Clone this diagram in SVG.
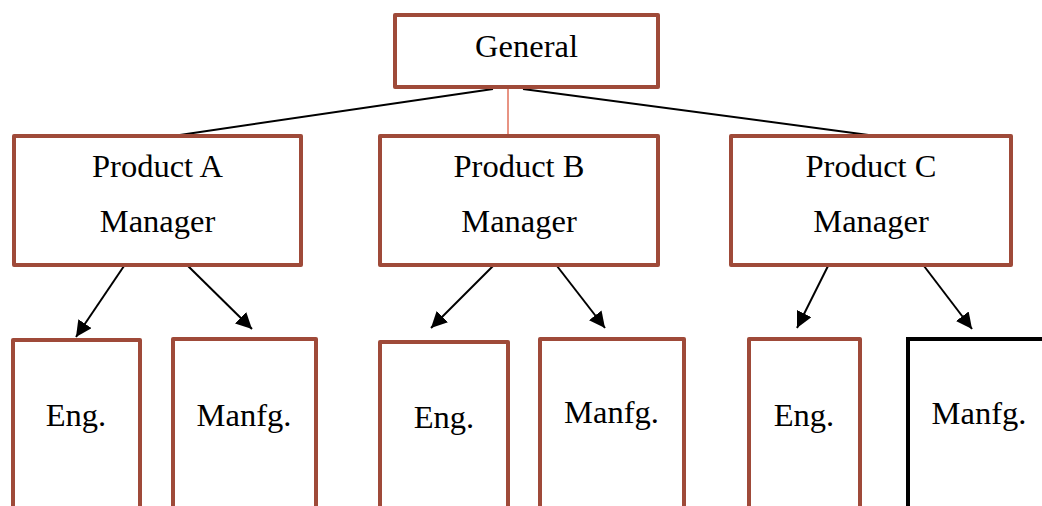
<svg xmlns="http://www.w3.org/2000/svg" width="1042" height="506" viewBox="0 0 1042 506">
<style>
.box{fill:#fff;stroke:#9f4a39;stroke-width:4;stroke-linejoin:round}
.bk{fill:#fff;stroke:#000;stroke-width:4}
text{font-family:"Liberation Serif","Times New Roman",serif;font-size:32.5px;fill:#000;text-anchor:middle}
.ln{stroke:#000;stroke-width:2;fill:none}
.ar{stroke:#000;stroke-width:2;fill:none;marker-end:url(#ah)}
</style>
<defs>
<marker id="ah" markerUnits="userSpaceOnUse" markerWidth="17" markerHeight="17" refX="16" refY="8" orient="auto">
<path d="M0,0 L16,8 L0,16 z" fill="#000"/>
</marker>
</defs>
<rect width="1042" height="506" fill="#fff"/>
<g id="connectors">
<line class="ln" x1="493" y1="89" x2="173" y2="136"/>
<line class="ln" x1="523" y1="89" x2="876" y2="136"/>
<line x1="508" y1="89" x2="508" y2="135" stroke="#e0705a" stroke-width="1.5"/>
<line class="ar" x1="124" y1="266" x2="76" y2="337"/>
<line class="ar" x1="188" y1="266" x2="252" y2="329"/>
<line class="ar" x1="493" y1="266" x2="431" y2="328"/>
<line class="ar" x1="557" y1="266" x2="605" y2="328"/>
<line class="ar" x1="828" y1="266" x2="797" y2="328"/>
<line class="ar" x1="924" y1="266" x2="972" y2="329"/>
</g>
<g id="general">
<rect class="box" x="395" y="15" width="263" height="72"/>
<text x="526.5" y="57">General</text>
</g>
<g id="productA">
<rect class="box" x="14" y="136" width="287" height="129"/>
<text x="157.5" y="177">Product A</text>
<text x="157.5" y="232">Manager</text>
</g>
<g id="productB">
<rect class="box" x="380" y="136" width="278" height="129"/>
<text x="519" y="177">Product B</text>
<text x="519" y="232">Manager</text>
</g>
<g id="productC">
<rect class="box" x="731" y="136" width="280" height="129"/>
<text x="871" y="177">Product C</text>
<text x="871" y="232">Manager</text>
</g>
<g id="engA">
<rect class="box" x="13" y="340" width="127" height="180"/>
<text x="76" y="426">Eng.</text>
</g>
<g id="manfgA">
<rect class="box" x="173" y="339" width="143" height="180"/>
<text x="244" y="426">Manfg.</text>
</g>
<g id="engB">
<rect class="box" x="380" y="342" width="128" height="180"/>
<text x="444" y="428">Eng.</text>
</g>
<g id="manfgB">
<rect class="box" x="540" y="339" width="144" height="180"/>
<text x="611.5" y="423">Manfg.</text>
</g>
<g id="engC">
<rect class="box" x="749" y="339" width="111" height="180"/>
<text x="804" y="426">Eng.</text>
</g>
<g id="manfgC">
<rect class="bk" x="908" y="339" width="150" height="180"/>
<text x="979" y="424">Manfg.</text>
</g>
</svg>
